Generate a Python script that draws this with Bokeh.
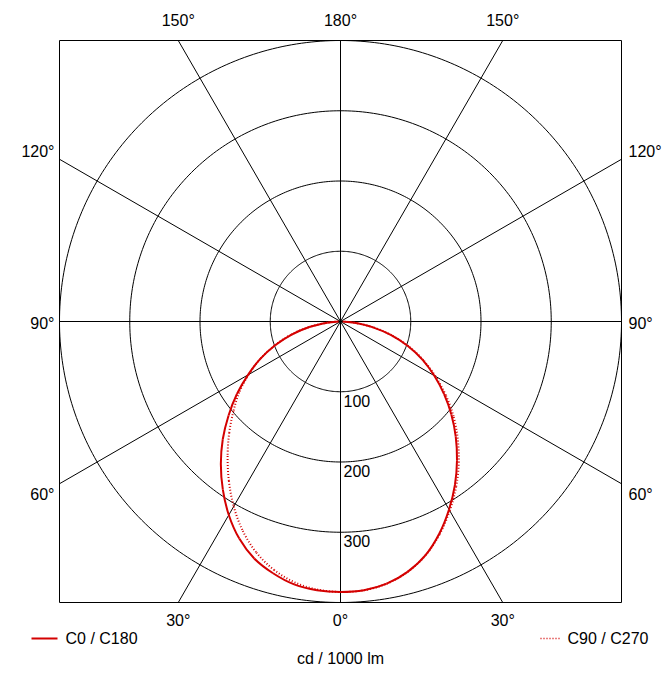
import numpy as np
from bokeh.plotting import figure
from bokeh.embed import file_html
from bokeh.resources import INLINE
from bokeh.core.properties import value

# ---------------- data ----------------
gamma = [0, 5, 10, 15, 20, 25, 30, 35, 40, 45, 50, 55, 60, 65, 70, 75, 80, 85, 90]
c0 = [385, 384, 379, 369, 354, 333, 309, 284, 258, 232, 206, 180, 154, 129, 102, 74, 46, 20, 3]
c180 = [385, 384, 380, 371, 359, 341, 318, 292, 265, 237, 208, 180, 152, 126, 99, 72, 45, 19, 3]
c90 = [385, 384, 379, 369, 354, 334, 311, 287, 262, 236, 210, 183, 156, 130, 103, 75, 47, 20, 3]
c270 = [385, 383, 377, 366, 350, 329, 304, 277, 250, 224, 199, 176, 151, 126, 100, 73, 46, 19, 3]

rings = [100, 200, 300, 400]
ring_labels = ["100", "200", "300"]
spoke_angles = list(range(0, 360, 30))
top_labels = ["150°", "180°", "150°"]
top_angles = [150, 180, 210]
bottom_labels = ["30°", "0°", "30°"]
bottom_angles = [330, 0, 30]
side_labels = ["120°", "90°", "60°"]
side_angles = [120, 90, 60]
series_names = ["C0 / C180", "C90 / C270"]
unit_label = "cd / 1000 lm"

# ---------------- geometry ----------------
W, H = 668, 690
S = 0.7025            # px per cd
CX, CY = 340, 321     # centre in figure pixels
R = rings[-1]


def px(n):
    return n / S


FONT = value("Liberation Sans")
FS = "16px"
RED = "#d40000"

p = figure(width=W, height=H, output_backend="svg", toolbar_location=None,
           x_range=(-CX / S, (W - CX) / S), y_range=(-(H - CY) / S, CY / S),
           x_axis_location=None, y_axis_location=None, min_border=0,
           background_fill_color="white", border_fill_color="white")
p.outline_line_color = None
p.grid.visible = False

# frame box
p.quad(left=-R, right=R, bottom=-R, top=R, fill_color=None, line_color="black", line_width=1)

# rings
th = np.linspace(0, 2 * np.pi, 361)
p.multi_line(xs=[list(r * np.cos(th)) for r in rings], ys=[list(r * np.sin(th)) for r in rings],
             line_color="black", line_width=1)

# spokes, clipped to the box
sx, sy = [], []
for a in spoke_angles:
    g = np.radians(a)
    dx, dy = np.sin(g), -np.cos(g)
    t = R / max(abs(dx), abs(dy))
    sx.append([0, t * dx])
    sy.append([0, t * dy])
p.multi_line(xs=sx, ys=sy, line_color="black", line_width=1)


def curve(left, right):
    g = np.radians(np.array(gamma, dtype=float))
    L = np.array(left, dtype=float)
    Rr = np.array(right, dtype=float)
    x = np.concatenate([(-L * np.sin(g))[::-1], (Rr * np.sin(g))[1:]])
    y = np.concatenate([(-L * np.cos(g))[::-1], (-Rr * np.cos(g))[1:]])
    return x, y


def smooth_draw(x, y, **kw):
    # Catmull-Rom style smooth rendering through the measured points
    n = len(x)
    P = np.column_stack([x, y])
    Pe = np.vstack([P[0], P, P[-1]])
    x0, y0, x1, y1, cx0, cy0, cx1, cy1 = [], [], [], [], [], [], [], []
    for i in range(n - 1):
        pm, p0, p1, p2 = Pe[i], Pe[i + 1], Pe[i + 2], Pe[i + 3]
        c1 = p0 + (p1 - pm) / 6.0
        c2 = p1 - (p2 - p0) / 6.0
        x0.append(p0[0]); y0.append(p0[1]); x1.append(p1[0]); y1.append(p1[1])
        cx0.append(c1[0]); cy0.append(c1[1]); cx1.append(c2[0]); cy1.append(c2[1])
    p.bezier(x0=x0, y0=y0, x1=x1, y1=y1, cx0=cx0, cy0=cy0, cx1=cx1, cy1=cy1, **kw)


x1, y1 = curve(c180, c0)
x2, y2 = curve(c270, c90)
smooth_draw(x2, y2, line_color=RED, line_width=2, line_dash="1 2")
smooth_draw(x1, y1, line_color=RED, line_width=2)

# ring value labels
p.text(x=[px(3)] * len(ring_labels), y=[-r - px(9) for r in rings[:len(ring_labels)]],
       text=ring_labels, text_font=FONT, text_font_size=FS, text_align="left",
       text_baseline="middle", text_color="black")

# top labels
p.text(x=[R * np.tan(np.radians(a - 180)) for a in top_angles],
       y=[R + px(20)] * len(top_angles), text=top_labels, text_font=FONT,
       text_font_size=FS, text_align="center", text_baseline="middle", text_color="black")
# bottom labels
p.text(x=[R * np.tan(np.radians(a if a < 180 else a - 360)) for a in bottom_angles],
       y=[-R - px(18)] * len(bottom_angles), text=bottom_labels, text_font=FONT,
       text_font_size=FS, text_align="center", text_baseline="middle", text_color="black")

# side labels
ys = []
for a in side_angles:
    g = np.radians(a)
    yl = -R * np.cos(g) / np.sin(g)
    c = -np.cos(g)
    off = 0 if abs(c) < 1e-9 else px(9) * np.sign(c)
    ys.append(yl + off - px(1.5))
p.text(x=[-R - px(5)] * len(ys), y=ys, text=side_labels, text_font=FONT, text_font_size=FS,
       text_align="right", text_baseline="middle", text_color="black")
p.text(x=[R + px(7)] * len(ys), y=ys, text=side_labels, text_font=FONT, text_font_size=FS,
       text_align="left", text_baseline="middle", text_color="black")

# legend (manual)
ly = -R - px(36)
p.line([-R - px(28), -R - px(2)], [ly, ly], line_color=RED, line_width=2)
p.text(x=[-R + px(6)], y=[ly], text=[series_names[0]], text_font=FONT, text_font_size=FS,
       text_align="left", text_baseline="middle", text_color="black")
p.line([R - px(81), R - px(62)], [ly, ly], line_color=RED, line_width=1.5, line_dash="1 2")
p.text(x=[R + px(27)], y=[ly], text=[series_names[1]], text_font=FONT, text_font_size=FS,
       text_align="right", text_baseline="middle", text_color="black")

# unit
p.text(x=[0], y=[-R - px(56)], text=[unit_label], text_font=FONT, text_font_size=FS,
       text_align="center", text_baseline="middle", text_color="black")

open("out.html", "w").write(file_html(p, INLINE))
